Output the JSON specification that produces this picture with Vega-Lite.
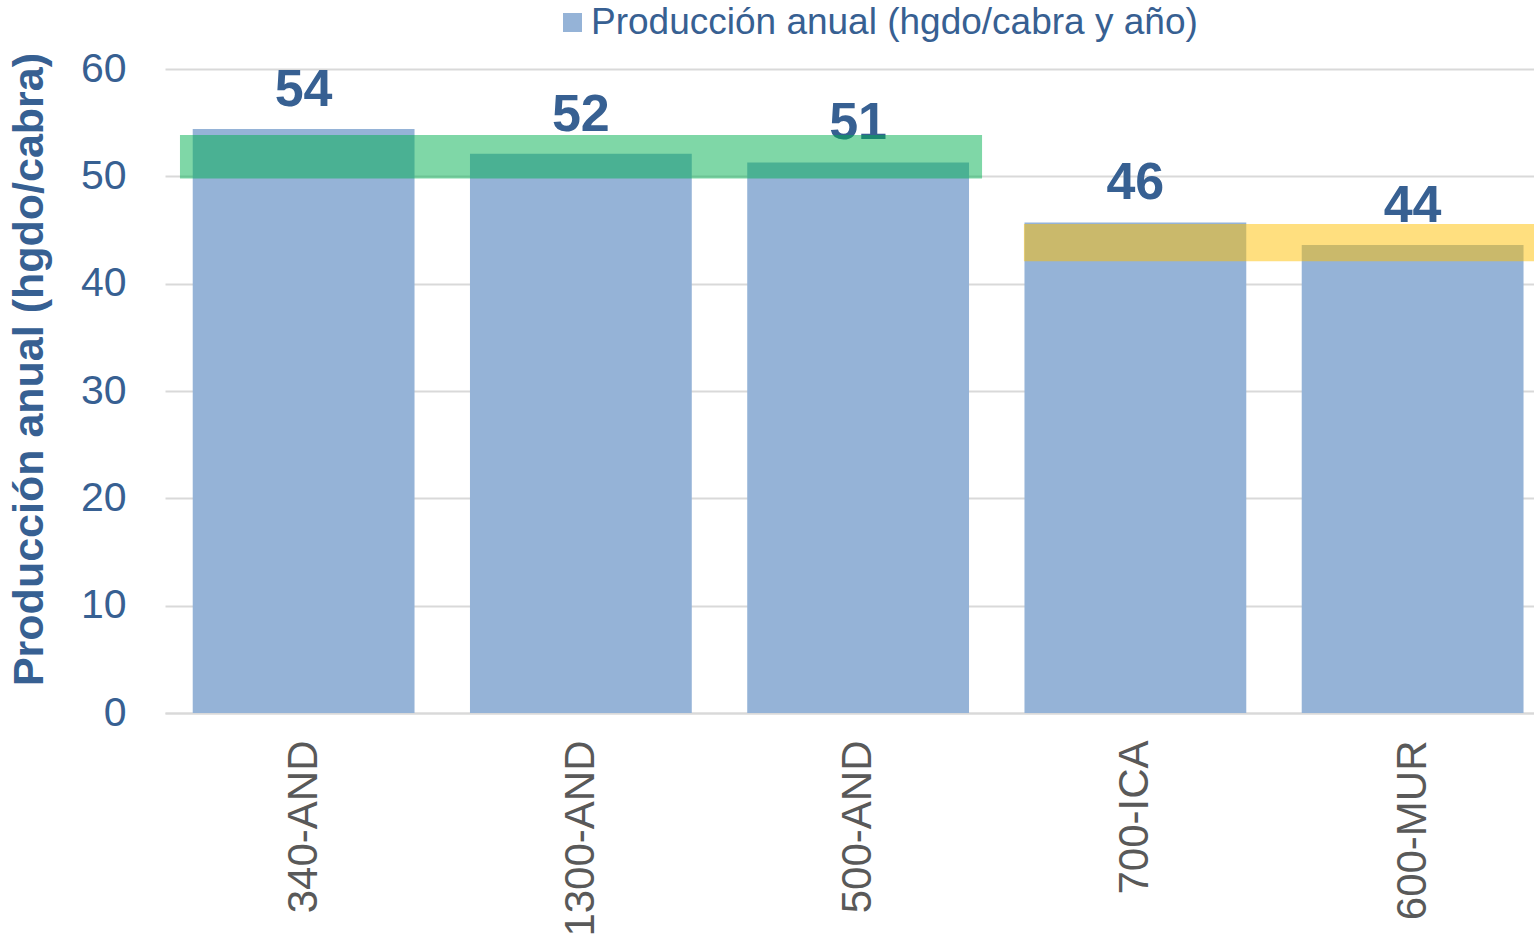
{
  "$schema": "https://vega.github.io/schema/vega-lite/v6.json",
  "autosize": {"type": "none"},
  "padding": {"left": 165, "top": 69, "right": 0, "bottom": 223},
  "width": 1369,
  "height": 644,
  "background": "white",
  "config": {
    "view": {"stroke": null},
    "font": "Liberation Sans"
  },
  "datasets": {
    "bars": [
      {"grupo": "340-AND", "produccion": 54.4},
      {"grupo": "1300-AND", "produccion": 52.1},
      {"grupo": "500-AND", "produccion": 51.3},
      {"grupo": "700-ICA", "produccion": 45.7},
      {"grupo": "600-MUR", "produccion": 43.6}
    ],
    "zonas": [
      {"zona": "alta", "x0": 0.054, "x1": 2.947, "y0": 49.8, "y1": 53.85},
      {"zona": "media", "x0": 3.098, "x1": 4.94, "y0": 42.1, "y1": 45.57}
    ]
  },
  "layer": [
    {
      "data": {"name": "bars"},
      "encoding": {
        "x": {
          "field": "grupo",
          "type": "nominal",
          "sort": null,
          "scale": {"range": [0, 1386.25], "paddingInner": 0.2, "paddingOuter": 0.1},
          "axis": {
            "title": null,
            "labelAngle": -90,
            "labelAlign": "right",
            "labelBaseline": "middle",
            "labelFontSize": 42,
            "labelColor": "#595959",
            "labelPadding": 27,
            "labelLimit": 500,
            "ticks": false,
            "domain": true,
            "domainColor": "#D9D9D9",
            "domainWidth": 2,
            "grid": false
          }
        },
        "y": {
          "field": "produccion",
          "type": "quantitative",
          "scale": {"domain": [0, 60], "nice": false},
          "axis": {
            "values": [0, 10, 20, 30, 40, 50, 60],
            "title": "Producción anual (hgdo/cabra)",
            "titleFontSize": 43,
            "titleFontWeight": "bold",
            "titleColor": "#376092",
            "titleAngle": -90,
            "titleAlign": "center",
            "titleBaseline": "alphabetic",
            "titleX": -123,
            "titleY": 300,
            "titleLimit": 1000,
            "labelFontSize": 41,
            "labelColor": "#376092",
            "labelPadding": 39,
            "labelBaseline": "middle",
            "ticks": false,
            "domain": false,
            "grid": true,
            "gridColor": "#D9D9D9",
            "gridWidth": 2
          }
        }
      },
      "layer": [
        {
          "mark": {"type": "bar", "opacity": 1},
          "encoding": {
            "color": {
              "datum": "Producción anual (hgdo/cabra y año)",
              "type": "nominal",
              "scale": {"range": ["#95B3D7"]},
              "legend": {
                "title": null,
                "orient": "none",
                "legendX": 389,
                "legendY": -65,
                "padding": 0,
                "symbolType": "square",
                "symbolSize": 361,
                "symbolStrokeWidth": 0,
                "labelFontSize": 37,
                "labelColor": "#376092",
                "labelOffset": 0,
                "labelLimit": 1000
              }
            }
          }
        },
        {
          "mark": {
            "type": "text",
            "fontSize": 52,
            "fontWeight": "bold",
            "color": "#376092",
            "baseline": "alphabetic",
            "dy": -23
          },
          "encoding": {
            "text": {"field": "produccion", "type": "quantitative", "format": ".0f"}
          }
        }
      ]
    },
    {
      "data": {"name": "zonas"},
      "mark": {"type": "rect", "opacity": 0.5},
      "encoding": {
        "x": {
          "field": "x0",
          "type": "quantitative",
          "scale": {"domain": [0, 5], "range": [0, 1386.25], "nice": false, "zero": false},
          "axis": null
        },
        "x2": {"field": "x1"},
        "y": {"field": "y0", "type": "quantitative"},
        "y2": {"field": "y1"},
        "color": {
          "field": "zona",
          "type": "nominal",
          "scale": {"domain": ["alta", "media"], "range": ["#00B050", "#FFC000"]},
          "legend": null
        }
      }
    }
  ],
  "resolve": {"scale": {"x": "independent", "color": "independent"}}
}
